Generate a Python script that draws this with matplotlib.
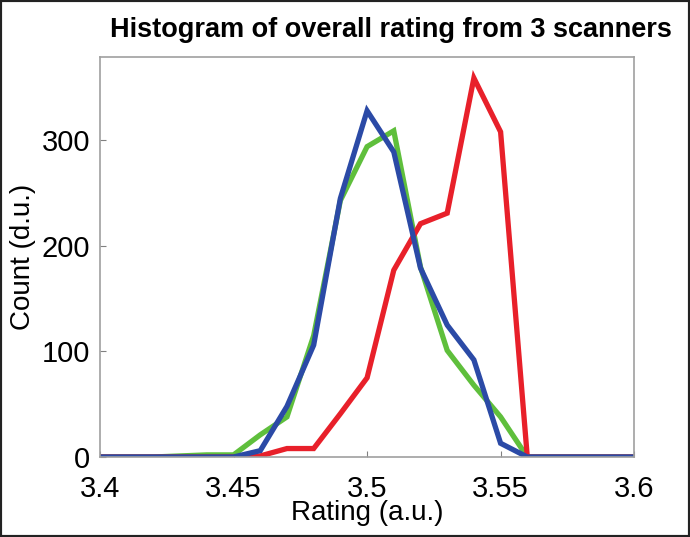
import numpy as np
import matplotlib.pyplot as plt
from matplotlib.patches import Rectangle

# bin centres and counts for the three scanners
rating = [3.40, 3.41, 3.42, 3.43, 3.44, 3.45, 3.46, 3.47, 3.48, 3.49, 3.50,
          3.51, 3.52, 3.53, 3.54, 3.55, 3.56, 3.57, 3.58, 3.59, 3.60]
green = [0, 0, 0, 1, 2, 2, 21, 38, 115, 243, 294,
         309, 180, 101, 68, 38, 0, 0, 0, 0, 0]
red = [0, 0, 0, 0, 0, 0, 1, 8, 8, 41, 75,
       177, 221, 231, 359, 308, 0, 0, 0, 0, 0]
blue = [0, 0, 0, 0, 0, 0, 6, 48, 106, 245, 328,
        289, 179, 125, 92, 13, 0, 0, 0, 0, 0]

plt.rcParams['font.family'] = ['Liberation Sans', 'DejaVu Sans']

fig = plt.figure(figsize=(6.9, 5.37), dpi=100)
ax = fig.add_axes([0.145, 0.149, 0.774, 0.745])

lw = 3.8
ax.plot(rating, green, color='#5fbf3c', lw=lw, solid_joinstyle='miter')
ax.plot(rating, red, color='#e8202a', lw=lw, solid_joinstyle='miter')
ax.plot(rating, blue, color='#2b4aa6', lw=lw, solid_joinstyle='miter')

ax.set_xlim(3.4, 3.6)
ax.set_ylim(0, 379)
ax.set_xticks([3.4, 3.45, 3.5, 3.55, 3.6])
ax.set_xticklabels(['3.4', '3.45', '3.5', '3.55', '3.6'])
ax.set_yticks([0, 100, 200, 300])
ax.tick_params(direction='in', length=4, color='#808080', labelsize=21)
ax.tick_params(axis='x', pad=13)
ax.tick_params(axis='y', pad=7)
for s in ax.spines.values():
    s.set_color('#a0a0a0')
    s.set_linewidth(1.2)

ax.set_xlabel('Rating (a.u.)', fontsize=20, labelpad=-2)
ax.set_ylabel('Count (d.u.)', fontsize=20, labelpad=4)
ax.set_title('Histogram of overall rating from 3 scanners', fontsize=19.5,
             fontweight='bold', pad=14, x=0.545)

fig.patches.append(Rectangle((0, 0), 1, 1, transform=fig.transFigure,
                             fill=False, edgecolor='#222222', lw=3))

plt.savefig('out.png')
plt.close()
